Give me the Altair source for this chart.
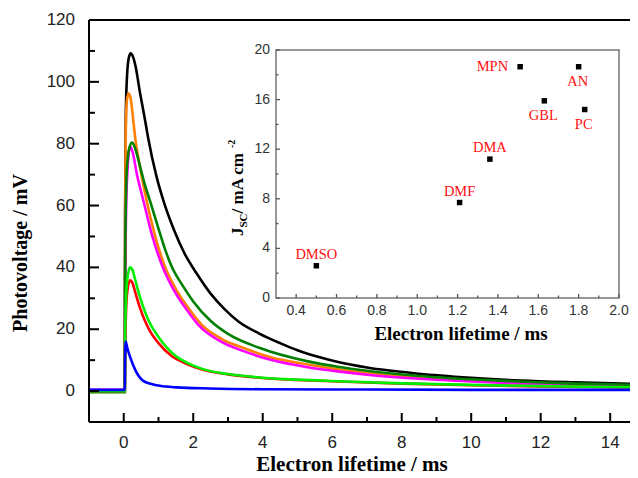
import altair as alt
import pandas as pd

# ---------------- main curves (time in ms, photovoltage in mV) ----------------
t_black = [-1, 0.03, 0.04, 0.06, 0.1, 0.15, 0.2, 0.27, 0.35, 0.46, 0.6, 0.7, 0.94, 1.13, 1.45, 1.75, 2.1, 2.5, 2.9, 3.3, 3.9, 4.5, 5.0, 5.64, 6.2, 7.0, 8.5, 10.0, 11.4, 13.0, 14.8]
v_black = [0, 0, 60, 90, 103, 108, 109.2, 108, 104.5, 97, 88.5, 82, 69.5, 62, 52, 44.5, 38, 31.5, 26.5, 22.5, 18.6, 15.5, 13.2, 10.9, 9.3, 7.6, 5.6, 4.3, 3.4, 2.8, 2.3]

t_orange = [-1, 0.03, 0.04, 0.06, 0.09, 0.14, 0.2, 0.27, 0.34, 0.45, 0.55, 0.65, 0.87, 1.18, 1.5, 1.8, 2.24, 2.8, 3.43, 4.2, 5.3, 6.2, 7.0, 8.5, 10.0, 11.5, 13.0, 14.8]
v_orange = [0, 0, 55, 85, 94, 96.3, 94.5, 88, 81, 73.5, 67.5, 62, 51.5, 40.4, 33, 27.8, 21.5, 17, 14, 11, 8.6, 7.0, 5.9, 4.4, 3.4, 2.6, 2.1, 1.7]

t_magenta = [-1, 0.03, 0.04, 0.07, 0.11, 0.15, 0.19, 0.25, 0.39, 0.5, 0.6, 0.8, 1.11, 1.5, 1.8, 2.14, 2.8, 3.43, 4.2, 5.3, 6.2, 7.0, 8.5, 10.0, 11.5, 13.0, 14.8]
v_magenta = [0.4, 0.4, 30, 60, 72, 77.5, 79, 77.5, 69.5, 64.5, 60, 51, 40.4, 31.5, 26.5, 21.5, 16, 13, 10.2, 7.7, 6.3, 5.3, 4.0, 3.1, 2.4, 1.9, 1.5]

t_darkgreen = [-1, 0.03, 0.04, 0.07, 0.11, 0.17, 0.24, 0.32, 0.45, 0.6, 0.77, 1.0, 1.2, 1.37, 1.7, 2.0, 2.52, 3.0, 3.9, 5.3, 6.2, 7.0, 8.5, 10.0, 11.5, 13.0, 14.8]
v_darkgreen = [-0.4, -0.4, 40, 66, 75, 79, 80.4, 78.8, 73.5, 67, 61, 52.5, 45.5, 40.5, 34, 29, 22.5, 18.5, 14, 9.6, 7.8, 6.6, 4.9, 3.8, 3.0, 2.4, 2.0]

t_red = [-1, 0.03, 0.04, 0.06, 0.1, 0.18, 0.25, 0.33, 0.45, 0.6, 0.75, 1.0, 1.37, 1.8, 2.28, 3.0, 3.91, 5.0, 6.2, 8.0, 10.0, 12.0, 14.8]
v_red = [0, 0, 15, 24, 32, 35.8, 35, 32, 27.5, 23, 19.5, 15.5, 11.4, 8.8, 6.9, 5.4, 4.3, 3.6, 3.1, 2.4, 1.9, 1.5, 1.1]

t_lime = [-1, 0.03, 0.04, 0.06, 0.1, 0.18, 0.25, 0.33, 0.45, 0.6, 0.75, 1.0, 1.47, 1.8, 2.28, 3.0, 3.91, 5.0, 6.2, 8.0, 10.0, 12.0, 14.8]
v_lime = [0, 0, 17, 28, 36, 40, 39.2, 36, 31, 26, 22, 17.5, 11.6, 9.3, 7.1, 5.5, 4.4, 3.7, 3.2, 2.5, 2.0, 1.6, 1.2]

t_blue = [-1, 0.03, 0.04, 0.06, 0.1, 0.2, 0.32, 0.56, 0.8, 1.04, 1.52, 2.47, 4.0, 7.0, 10.0, 14.8]
v_blue = [0.4, 0.4, 12, 15.9, 14, 10.5, 7.1, 3.3, 2.3, 1.7, 1.2, 0.85, 0.6, 0.5, 0.4, 0.4]

# axis ticks of the main plot
x_major = [0, 2, 4, 6, 8, 10, 12, 14]
x_minor = [1, 3, 5, 7, 9, 11, 13]
y_major = [0, 20, 40, 60, 80, 100, 120]
y_minor = [10, 30, 50, 70, 90, 110]

# ---------------- inset (J_SC vs electron lifetime) ----------------
solvents = ["DMSO", "DMF", "DMA", "MPN", "GBL", "AN", "PC"]
lifetime = [0.50, 1.21, 1.36, 1.51, 1.63, 1.80, 1.83]
jsc = [2.6, 7.7, 11.2, 18.65, 15.9, 18.65, 15.2]

ix_major = [0.4, 0.6, 0.8, 1.0, 1.2, 1.4, 1.6, 1.8, 2.0]
ix_minor = [0.5, 0.7, 0.9, 1.1, 1.3, 1.5, 1.7, 1.9]
iy_major = [0, 4, 8, 12, 16, 20]
iy_minor = [2, 6, 10, 14, 18]

# ---------------- layout ----------------
W, H = 541, 402
XS = alt.Scale(domain=[-1, 14.57], nice=False, zero=False)
YS = alt.Scale(domain=[-10, 120], nice=False, zero=False)
IL, IR, IT, IB = 187, 530, 30, 278
XI = alt.Scale(domain=[0.3, 2.0], range=[IL, IR], nice=False, zero=False)
YI = alt.Scale(domain=[0, 20], range=[IB, IT], nice=False, zero=False)

SANS = "Liberation Sans"
SERIF = "Liberation Serif"

curves = [
    (t_black, v_black, "#000000"),
    (t_orange, v_orange, "#ff8000"),
    (t_magenta, v_magenta, "#ff00ff"),
    (t_darkgreen, v_darkgreen, "#008000"),
    (t_red, v_red, "#ff0000"),
    (t_lime, v_lime, "#00ee00"),
    (t_blue, v_blue, "#0000ff"),
]

main_layers = []
for tt, vv, col in curves:
    df = pd.DataFrame({"t": tt, "v": vv})
    main_layers.append(
        alt.Chart(df).mark_line(color=col, strokeWidth=2.6, interpolate="monotone", clip=True).encode(
            x=alt.X("t:Q", scale=XS, axis=None), y=alt.Y("v:Q", scale=YS, axis=None))
    )

def xticks(vals, length):
    return alt.Chart(pd.DataFrame({"v": vals})).mark_rule(color="black", strokeWidth=2).encode(
        x=alt.X("v:Q", scale=XS, axis=None), y=alt.value(H), y2=alt.value(H - length))

def yticks(vals, length):
    return alt.Chart(pd.DataFrame({"v": vals})).mark_rule(color="black", strokeWidth=2).encode(
        y=alt.Y("v:Q", scale=YS, axis=None), x=alt.value(0), x2=alt.value(length))

x_labels = alt.Chart(pd.DataFrame({"v": x_major})).mark_text(
    font=SANS, fontSize=17, color="#222", align="center", baseline="top").encode(
    x=alt.X("v:Q", scale=XS, axis=None), y=alt.value(H + 13), text=alt.Text("v:Q", format="d"))
y_labels = alt.Chart(pd.DataFrame({"v": y_major})).mark_text(
    font=SANS, fontSize=17, color="#222", align="right", baseline="middle").encode(
    y=alt.Y("v:Q", scale=YS, axis=None), x=alt.value(-14), text=alt.Text("v:Q", format="d"))

frame_main = alt.Chart(pd.DataFrame({"a": [0]})).mark_rule(color="black", strokeWidth=2)
left_line = frame_main.encode(x=alt.value(0), y=alt.value(0), y2=alt.value(H))
bottom_line = frame_main.encode(y=alt.value(H), x=alt.value(0), x2=alt.value(W))
top_line = frame_main.encode(y=alt.value(0), x=alt.value(0), x2=alt.value(W))

def label(txt, x, y, size, angle=0, align="center", baseline="middle", color="black", weight="bold", font=SERIF):
    return alt.Chart(pd.DataFrame({"s": [txt]})).mark_text(
        font=font, fontSize=size, fontWeight=weight, angle=angle, align=align, baseline=baseline, color=color
    ).encode(x=alt.value(x), y=alt.value(y), text="s:N")

main_title_x = label("Electron lifetime / ms", 263, 451, 21, baseline="alphabetic")
main_title_y = label("Photovoltage / mV", -68, 233, 20, angle=270)

main = alt.layer(*main_layers, xticks(x_major, 9), xticks(x_minor, 5), yticks(y_major, 10), yticks(y_minor, 6),
                 left_line, bottom_line, top_line, x_labels, y_labels, main_title_x, main_title_y)

# ---------------- inset ----------------
frame = alt.Chart(pd.DataFrame({"x0": [0.3], "x1": [2.0], "y0": [0], "y1": [20]})).mark_rect(
    fill="white", stroke="#777777", strokeWidth=1.5).encode(
    x=alt.X("x0:Q", scale=XI, axis=None), x2="x1", y=alt.Y("y0:Q", scale=YI, axis=None), y2="y1")

def ixticks(vals, length):
    return alt.Chart(pd.DataFrame({"v": vals})).mark_rule(color="#555", strokeWidth=1.3).encode(
        x=alt.X("v:Q", scale=XI, axis=None), y=alt.value(IB), y2=alt.value(IB - length))

def iyticks(vals, length):
    return alt.Chart(pd.DataFrame({"v": vals})).mark_rule(color="#555", strokeWidth=1.3).encode(
        y=alt.Y("v:Q", scale=YI, axis=None), x=alt.value(IL), x2=alt.value(IL + length))

ix_labels = alt.Chart(pd.DataFrame({"v": ix_major})).mark_text(
    font=SANS, fontSize=14, color="#333", align="center", baseline="top").encode(
    x=alt.X("v:Q", scale=XI, axis=None), y=alt.value(IB + 6), text=alt.Text("v:Q", format=".1f"))
iy_labels = alt.Chart(pd.DataFrame({"v": iy_major})).mark_text(
    font=SANS, fontSize=14, color="#333", align="right", baseline="middle").encode(
    y=alt.Y("v:Q", scale=YI, axis=None), x=alt.value(IL - 6), text=alt.Text("v:Q", format="d"))

pts_df = pd.DataFrame({"name": solvents, "tau": lifetime, "jsc": jsc})
points = alt.Chart(pts_df).mark_square(size=30, color="black", opacity=1).encode(
    x=alt.X("tau:Q", scale=XI, axis=None), y=alt.Y("jsc:Q", scale=YI, axis=None))

def name_labels(names, dx, dy, align):
    return alt.Chart(pts_df).transform_filter(alt.FieldOneOfPredicate(field="name", oneOf=names)).mark_text(
        font=SERIF, fontSize=14.5, color="#ff1010", align=align, baseline="middle", dx=dx, dy=dy).encode(
        x=alt.X("tau:Q", scale=XI, axis=None), y=alt.Y("jsc:Q", scale=YI, axis=None), text="name:N")

lab_above = name_labels(["DMSO", "DMF", "DMA"], 0, -11, "center")
lab_left = name_labels(["MPN"], -12, 0, "right")
lab_below = name_labels(["GBL", "AN", "PC"], -1, 15.5, "center")

inset_title_x = label("Electron lifetime / ms", 372, 320, 19, baseline="alphabetic")
ity = [
    label("J", 154, 216, 17, angle=270, align="left", baseline="alphabetic"),
    label("SC", 158, 207.5, 11, angle=270, align="left", baseline="alphabetic"),
    label(" / mA cm", 154, 193.5, 17, angle=270, align="left", baseline="alphabetic"),
    label("-2", 146, 128, 10, angle=270, align="left", baseline="alphabetic"),
]

inset = alt.layer(frame, ixticks(ix_major, 4), ixticks(ix_minor, 2.5), iyticks(iy_major, 4), iyticks(iy_minor, 2.5),
                  ix_labels, iy_labels, points, lab_above, lab_left, lab_below, inset_title_x, *ity)

chart = alt.layer(main, inset).resolve_scale(x="independent", y="independent").properties(
    width=W, height=H, autosize=alt.AutoSizeParams(type="none"),
    padding={"left": 81, "top": 12, "right": 0, "bottom": 56},
).configure_view(stroke=None).configure_axis(grid=False)

chart.save("out.html", embed_options={"renderer": "svg", "actions": False})
